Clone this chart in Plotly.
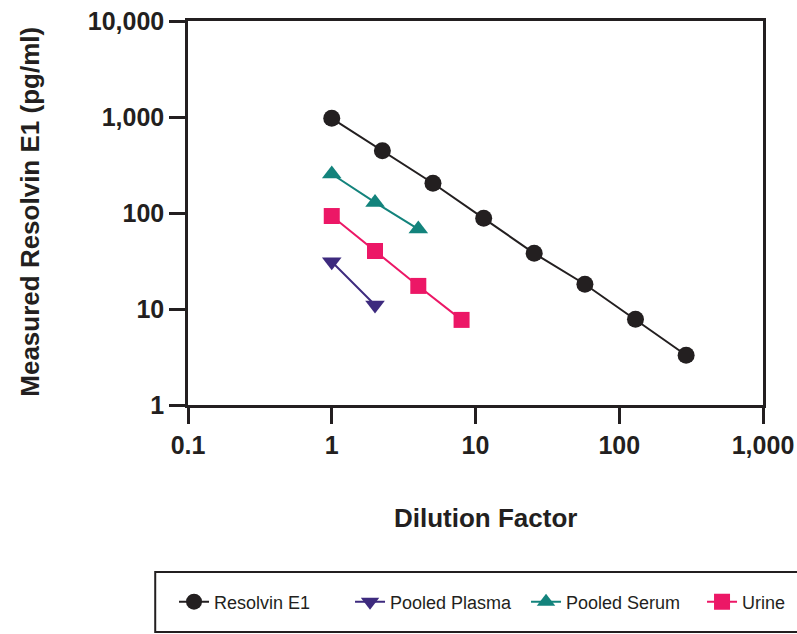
import plotly.graph_objects as go

# Data
resolvin_x = [1, 2.25, 5.06, 11.4, 25.6, 57.7, 129.7, 291.9]
resolvin_y = [969, 446, 204, 88, 38, 18.1, 7.8, 3.3]

plasma_x = [1, 2]
plasma_y = [31, 11.0]

serum_x = [1, 2, 4]
serum_y = [255, 129, 68]

urine_x = [1, 2, 4, 8]
urine_y = [93, 40.2, 17.4, 7.7]

x_tickvals = [0.1, 1, 10, 100, 1000]
x_ticktext = ["0.1", "1", "10", "100", "1,000"]
y_tickvals = [1, 10, 100, 1000, 10000]
y_ticktext = ["1", "10", "100", "1,000", "10,000"]

FONT = "Liberation Sans, Arial, Helvetica, sans-serif"
BLACK = "#231f20"

fig = go.Figure()
fig.add_trace(go.Scatter(x=resolvin_x, y=resolvin_y, name="Resolvin E1", mode="lines+markers",
                         line=dict(color=BLACK, width=2),
                         marker=dict(symbol="circle", size=17, color=BLACK)))
fig.add_trace(go.Scatter(x=plasma_x, y=plasma_y, name="Pooled Plasma", mode="lines+markers",
                         line=dict(color="#3d2a7e", width=2),
                         marker=dict(symbol="triangle-down", size=17, color="#3d2a7e")))
fig.add_trace(go.Scatter(x=serum_x, y=serum_y, name="Pooled Serum", mode="lines+markers",
                         line=dict(color="#13837c", width=2),
                         marker=dict(symbol="triangle-up", size=17, color="#13837c")))
fig.add_trace(go.Scatter(x=urine_x, y=urine_y, name="Urine", mode="lines+markers",
                         line=dict(color="#ec1766", width=2),
                         marker=dict(symbol="square", size=16, color="#ec1766")))

axis_common = dict(type="log", showgrid=False, zeroline=False, showline=True, linecolor=BLACK,
                   linewidth=2.5, mirror=True, ticks="outside", ticklen=16, tickwidth=2.5,
                   tickcolor=BLACK, automargin=False, ticklabeloverflow="allow",
                   tickfont=dict(family=FONT, size=25, color=BLACK, weight="bold"))

fig.update_xaxes(range=[-1, 3], tickvals=x_tickvals, ticktext=x_ticktext, **axis_common)
fig.update_yaxes(range=[0, 4], tickvals=y_tickvals, ticktext=y_ticktext, **axis_common)

fig.add_annotation(text="<b>Dilution Factor</b>", xref="paper", yref="paper", x=0.518, y=-0.294,
                   xanchor="center", yanchor="middle",
                   showarrow=False, font=dict(family=FONT, size=26, color=BLACK))
fig.add_annotation(text="<b>Measured Resolvin E1 (pg/ml)</b>", xref="paper", yref="paper",
                   x=-0.275, y=0.503, xanchor="center", yanchor="middle", textangle=-90,
                   showarrow=False, font=dict(family=FONT, size=26, color=BLACK))

# legend frame
fig.add_shape(type="rect", xref="paper", yref="paper", x0=-0.057, x1=1.12, y0=-0.591, y1=-0.435,
              line=dict(color=BLACK, width=2))

fig.update_layout(
    width=797, height=634,
    margin=dict(l=188, r=34, t=21, b=229, autoexpand=False),
    paper_bgcolor="white", plot_bgcolor="white",
    showlegend=True,
    legend=dict(orientation="h", x=-0.0243, xanchor="left", y=-0.513, yanchor="middle",
                font=dict(family=FONT, size=18, color=BLACK), bgcolor="rgba(0,0,0,0)",
                entrywidth=131, entrywidthmode="pixels"),
)

fig.write_html("out.html", config={"displayModeBar": False},
               post_script="document.body.style.margin='0';document.body.style.overflow='hidden';")
